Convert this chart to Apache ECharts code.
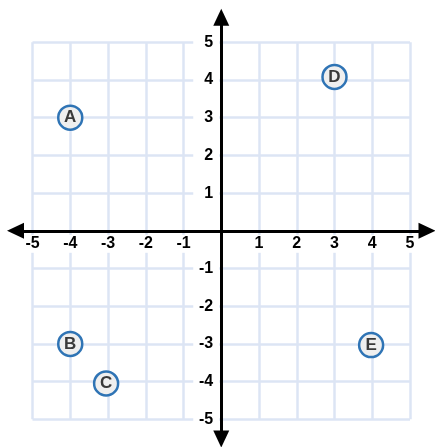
<!DOCTYPE html>
<html>
<head>
<meta charset="utf-8">
<script src="https://cdn.jsdelivr.net/npm/echarts@6/dist/echarts.min.js"></script>
<style>
  html, body { margin: 0; padding: 0; background: #fff; }
  #chart { width: 435px; height: 447px; }
</style>
</head>
<body>
<div id="chart"></div>
<script>
// 点的名称和坐标
const pointNames = ['A', 'B', 'C', 'D', 'E'];
const pointX = [-4, -4, -3.05, 3, 3.97];
const pointY = [3, -3, -4.05, 4.08, -3.03];
// 坐标轴刻度
const tickMin = -5;
const tickMax = 5;
const tickLabels = [-5, -4, -3, -2, -1, 1, 2, 3, 4, 5];

const chartDom = document.getElementById('chart');
const myChart = echarts.init(chartDom);

const gridColor = '#dce5f4';
const labelFont = 'Liberation Sans';

const scatterData = pointNames.map((name, i) => ({name: name, value: [pointX[i], pointY[i]]}));

// 网格尺寸
const gridLeft = 32.5, gridTop = 42.3, gridW = 377.5, gridH = 377;
// 标签轴从边缘移到 0 处
const xLabelOffset = -gridH / 2;
const yLabelOffset = -gridW / 2;

const option = {
  animation: false,
  backgroundColor: '#fff',
  grid: [
    // 网格 (-5..5)
    {left: gridLeft, top: gridTop, width: gridW, height: gridH, outerBoundsMode: 'none', containLabel: false},
    // 黑色坐标轴 (带箭头, 比网格长)
    {left: 15.5, top: 17.3, width: 411.5, height: 421.7, outerBoundsMode: 'none', containLabel: false}
  ],
  xAxis: [
    {
      type: 'value', gridIndex: 0, min: tickMin, max: tickMax, interval: 1, z: 2,
      axisLine: {show: false},
      axisTick: {show: false},
      axisLabel: {show: false},
      splitLine: {show: true, lineStyle: {color: gridColor, width: 2.5}}
    },
    {
      type: 'value', gridIndex: 1, min: -5.45, max: 5.45, z: 4,
      axisLine: {show: true, onZero: true, symbol: ['triangle', 'triangle'], symbolSize: [16, 17],
        lineStyle: {color: '#000', width: 3}},
      axisTick: {show: false},
      axisLabel: {show: false},
      splitLine: {show: false}
    },
    {
      type: 'value', gridIndex: 0, min: tickMin, max: tickMax, z: 3,
      position: 'bottom', offset: xLabelOffset,
      axisLine: {show: false, onZero: false},
      axisTick: {show: false},
      splitLine: {show: false},
      axisLabel: {
        customValues: tickLabels,
        margin: 4,
        color: '#000', fontWeight: 'bold', fontSize: 16, fontFamily: labelFont,
        backgroundColor: '#fff', padding: [1, 3, 1, 3], lineHeight: 16
      }
    }
  ],
  yAxis: [
    {
      type: 'value', gridIndex: 0, min: tickMin, max: tickMax, interval: 1, z: 2,
      axisLine: {show: false},
      axisTick: {show: false},
      axisLabel: {show: false},
      splitLine: {show: true, lineStyle: {color: gridColor, width: 2.5}}
    },
    {
      type: 'value', gridIndex: 1, min: -5.52, max: 5.66, z: 4,
      axisLine: {show: true, onZero: true, symbol: ['triangle', 'triangle'], symbolSize: [16, 17],
        lineStyle: {color: '#000', width: 3}},
      axisTick: {show: false},
      axisLabel: {show: false},
      splitLine: {show: false}
    },
    {
      type: 'value', gridIndex: 0, min: tickMin, max: tickMax, z: 3,
      position: 'left', offset: yLabelOffset,
      axisLine: {show: false, onZero: false},
      axisTick: {show: false},
      splitLine: {show: false},
      axisLabel: {
        customValues: tickLabels,
        margin: 2,
        color: '#000', fontWeight: 'bold', fontSize: 16, fontFamily: labelFont,
        backgroundColor: '#fff', padding: [2, 6, 2, 0], width: 20, align: 'right'
      }
    }
  ],
  series: [
    {
      type: 'scatter',
      xAxisIndex: 0,
      yAxisIndex: 0,
      z: 10,
      symbol: 'circle',
      symbolSize: 24,
      itemStyle: {color: '#efefef', borderColor: '#2f74b5', borderWidth: 2.5, opacity: 1},
      label: {
        show: true, position: 'inside', formatter: '{b}',
        color: '#3a3a3a', fontWeight: 'bold', fontSize: 17, fontFamily: labelFont
      },
      data: scatterData
    }
  ]
};
option && myChart.setOption(option);
</script>
</body>
</html>
